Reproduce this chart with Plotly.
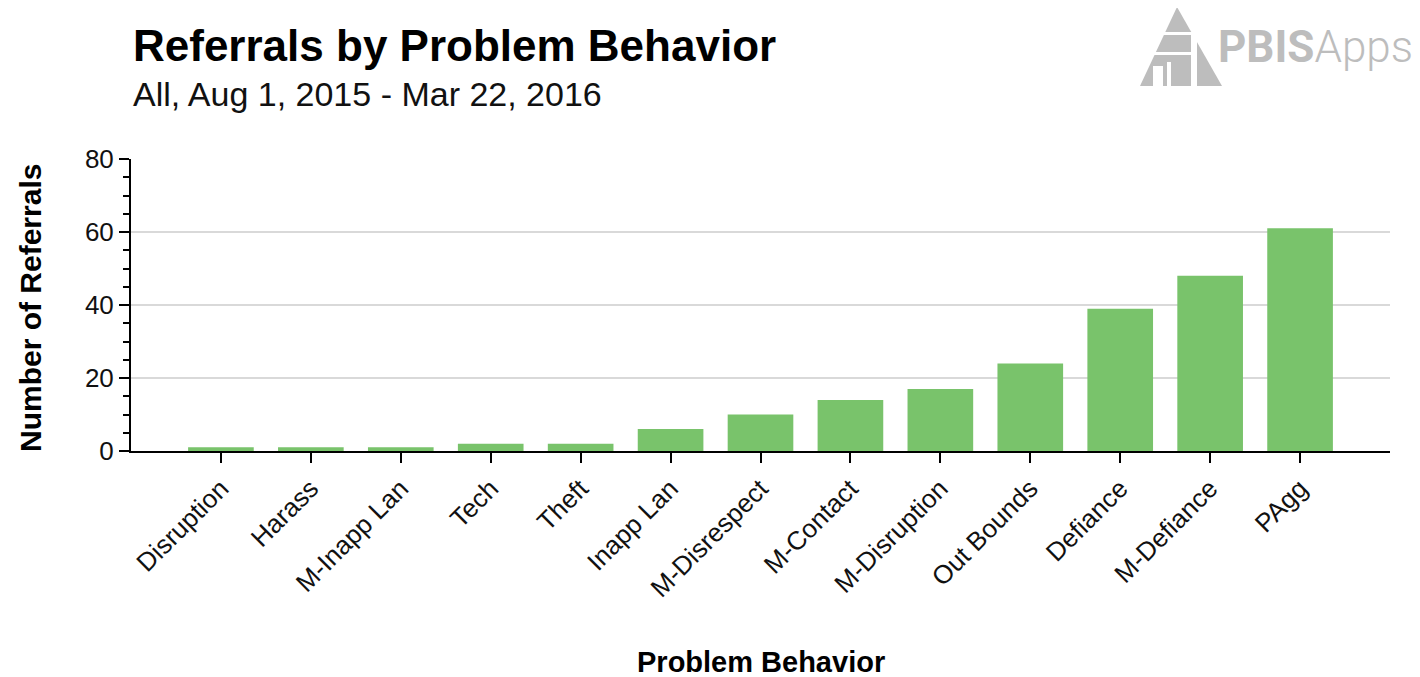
import plotly.graph_objects as go

categories = ["Disruption", "Harass", "M-Inapp Lan", "Tech", "Theft", "Inapp Lan",
              "M-Disrespect", "M-Contact", "M-Disruption", "Out Bounds", "Defiance",
              "M-Defiance", "PAgg"]
referrals = [1, 1, 1, 2, 2, 6, 10, 14, 17, 24, 39, 48, 61]
y_ticks = [0, 20, 40, 60, 80]

OFF = 8  # page body margin
W, H = 1420 - OFF, 677 - OFF
L, R, T, B = 131 - OFF, 30, 159 - OFF, 226
PW, PH = W - L - R, H - T - B


def px(xp):
    return (xp - OFF - L) / PW


def py(yp):
    return (H - B - (yp - OFF)) / PH


fig = go.Figure(go.Bar(
    x=categories, y=referrals, marker_color="#79c36b", marker_line_width=0,
    width=0.73, hoverinfo="x+y",
))

FONT = "Liberation Sans, Arial, Helvetica, sans-serif"
tick_font = dict(family=FONT, size=26, color="#111")

fig.update_layout(
    width=W, height=H,
    margin=dict(l=L, r=R, t=T, b=B),
    paper_bgcolor="white", plot_bgcolor="white",
    showlegend=False,
    xaxis=dict(
        type="category", range=[-1, 13], tickangle=-45, tickfont=tick_font,
        ticks="outside", ticklen=10, tickwidth=2, tickcolor="black",
        showline=True, linecolor="black", linewidth=2, showgrid=False,
        zeroline=False,
    ),
    yaxis=dict(
        range=[0, 80], tickvals=y_ticks, tickfont=dict(tick_font, size=26),
        ticks="outside", ticklen=10, tickwidth=2, tickcolor="black",
        showline=True, linecolor="black", linewidth=2,
        showgrid=True, gridcolor="#d9d9d9", gridwidth=1.5, zeroline=False,
        minor=dict(dtick=5, ticks="outside", ticklen=6, tickwidth=2,
                   tickcolor="black", showgrid=False),
    ),
)

annotations = [
    dict(text="<b>Referrals by Problem Behavior</b>", x=px(131), y=py(46),
         xanchor="left", yanchor="middle", showarrow=False,
         font=dict(family=FONT, size=44, color="black")),
    dict(text="All, Aug 1, 2015 - Mar 22, 2016", x=px(131), y=py(94),
         xanchor="left", yanchor="middle", showarrow=False,
         font=dict(family=FONT, size=34, color="#111")),
    dict(text="<b>Problem Behavior</b>", x=0.5, y=py(662),
         xanchor="center", yanchor="middle", showarrow=False,
         font=dict(family=FONT, size=29, color="black")),
    dict(text="<b>Number of Referrals</b>", x=px(30), y=py(308), textangle=-90,
         xanchor="center", yanchor="middle", showarrow=False,
         font=dict(family=FONT, size=30, color="black")),
    dict(text="<b>PBIS</b>Apps", x=px(1216), y=py(47),
         xanchor="left", yanchor="middle", showarrow=False,
         font=dict(family="Roboto, Liberation Sans, sans-serif", size=44,
                   color="#bdbdbd", weight=300)),
]
for a in annotations:
    a.update(xref="paper", yref="paper")
fig.update_layout(annotations=annotations)

logo_gray = "#bdbdbd"


def path(points):
    return "M " + " L ".join(f"{px(a)},{py(b)}" for a, b in points) + " Z"


shapes = [
    dict(type="path", path=path([(1177, 7), (1222, 86), (1140, 86)]),
         fillcolor=logo_gray, line_width=0),
    # white stripes and gaps in the logo
    dict(type="path", path=path([(1150, 32), (1195, 32), (1195, 35), (1150, 35)]),
         fillcolor="white", line_width=0),
    dict(type="path", path=path([(1140, 52), (1195, 52), (1195, 55), (1140, 55)]),
         fillcolor="white", line_width=0),
    dict(type="path", path=path([(1191, 35), (1197, 35), (1197, 87), (1191, 87)]),
         fillcolor="white", line_width=0),
    dict(type="path", path=path([(1153, 66), (1163, 66), (1163, 87), (1153, 87)]),
         fillcolor="white", line_width=0),
    dict(type="path", path=path([(1167, 62), (1171, 62), (1171, 87), (1167, 87)]),
         fillcolor="white", line_width=0),
]
for s in shapes:
    s.update(xref="paper", yref="paper", layer="above")
fig.update_layout(shapes=shapes)

fig.write_html("out.html")
